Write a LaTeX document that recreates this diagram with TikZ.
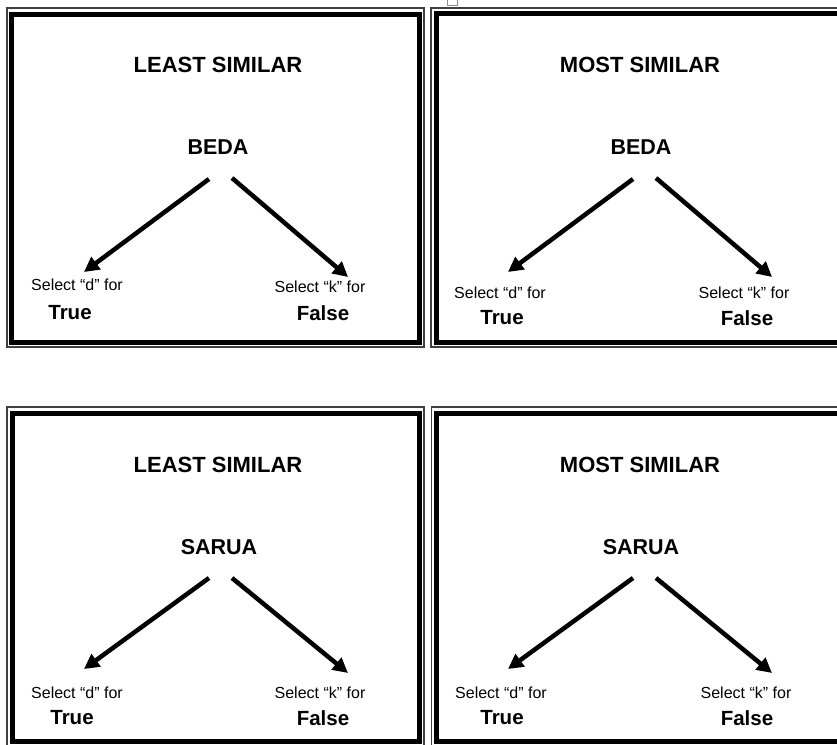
\documentclass[tikz,border=0pt]{standalone}
\usepackage{fontspec}
\setmainfont{Liberation Sans}
\usetikzlibrary{arrows.meta}
\tikzset{
  thinframe/.style={draw=black!75,line width=1.1pt},
  thickframe/.style={draw=black,line width=5pt},
  head/.style={font=\bfseries\fontsize{22}{25}\selectfont,inner sep=0pt},
  word/.style={font=\bfseries\fontsize{21.5}{24}\selectfont,inner sep=0pt},
  sel/.style={font=\fontsize{16}{18}\selectfont,inner sep=0pt},
  ans/.style={font=\bfseries\fontsize{20.5}{23}\selectfont,inner sep=0pt},
  arr/.style={line width=4.5pt,-{Triangle[length=15pt,width=15pt]},shorten >=0pt}
}
\begin{document}
\begin{tikzpicture}[x=1pt,y=-1pt]
\useasboundingbox (0,0) rectangle (837,744);
\clip (0,0) rectangle (837,744);
% small marker square at top
\draw[black!45,line width=0.8pt] (447,-6) rectangle (457,5);
% frames
\draw[thinframe] (7,8) rectangle (424,347);
\draw[thickframe] (11.5,14) rectangle (419,342);
\draw[thinframe] (431,8) rectangle (860,347);
\draw[thickframe] (436.5,13.5) rectangle (860,342);
\draw[thinframe] (7,407) rectangle (424,748);
\draw[thickframe] (12,413) rectangle (419.5,741.5);
\draw[thinframe] (431.5,407) rectangle (860,748);
\draw[thickframe] (436.5,413) rectangle (860,741.5);
% top-left
\node[head] (h1) at (218,65) {LEAST SIMILAR};
\node[word] (w1) at (218,147) {BEDA};
\node[sel] (d1) at (77,285) {Select “d” for};
\node[ans] (t1) at (70,313) {True};
\node[sel] (k1) at (320,287) {Select “k” for};
\node[ans] (f1) at (323,313) {False};
\coordinate (a1s) at (209,179); \coordinate (a1e) at (84,272);
\coordinate (b1s) at (232,178); \coordinate (b1e) at (348,277);
\draw[arr] (a1s) -- (a1e);
\draw[arr] (b1s) -- (b1e);
% top-right
\node[head] (h2) at (640,65) {MOST SIMILAR};
\node[word] (w2) at (641,147) {BEDA};
\node[sel] (d2) at (500,293) {Select “d” for};
\node[ans] (t2) at (502,318) {True};
\node[sel] (k2) at (744,293) {Select “k” for};
\node[ans] (f2) at (747,318) {False};
\coordinate (a2s) at (633,179); \coordinate (a2e) at (508,272);
\coordinate (b2s) at (656,178); \coordinate (b2e) at (772,277);
\draw[arr] (a2s) -- (a2e);
\draw[arr] (b2s) -- (b2e);
% bottom-left
\node[head] (h3) at (218,465) {LEAST SIMILAR};
\node[word] (w3) at (219,547) {SARUA};
\node[sel] (d3) at (77,693) {Select “d” for};
\node[ans] (t3) at (72,718) {True};
\node[sel] (k3) at (320,693) {Select “k” for};
\node[ans] (f3) at (323,718) {False};
\coordinate (a3s) at (209,578); \coordinate (a3e) at (84,669);
\coordinate (b3s) at (232,578); \coordinate (b3e) at (348,673);
\draw[arr] (a3s) -- (a3e);
\draw[arr] (b3s) -- (b3e);
% bottom-right
\node[head] (h4) at (640,465) {MOST SIMILAR};
\node[word] (w4) at (641,547) {SARUA};
\node[sel] (d4) at (501,693) {Select “d” for};
\node[ans] (t4) at (502,718) {True};
\node[sel] (k4) at (746,693) {Select “k” for};
\node[ans] (f4) at (747,718) {False};
\coordinate (a4s) at (633,578); \coordinate (a4e) at (508,669);
\coordinate (b4s) at (656,578); \coordinate (b4e) at (772,673);
\draw[arr] (a4s) -- (a4e);
\draw[arr] (b4s) -- (b4e);
\end{tikzpicture}
\end{document}
